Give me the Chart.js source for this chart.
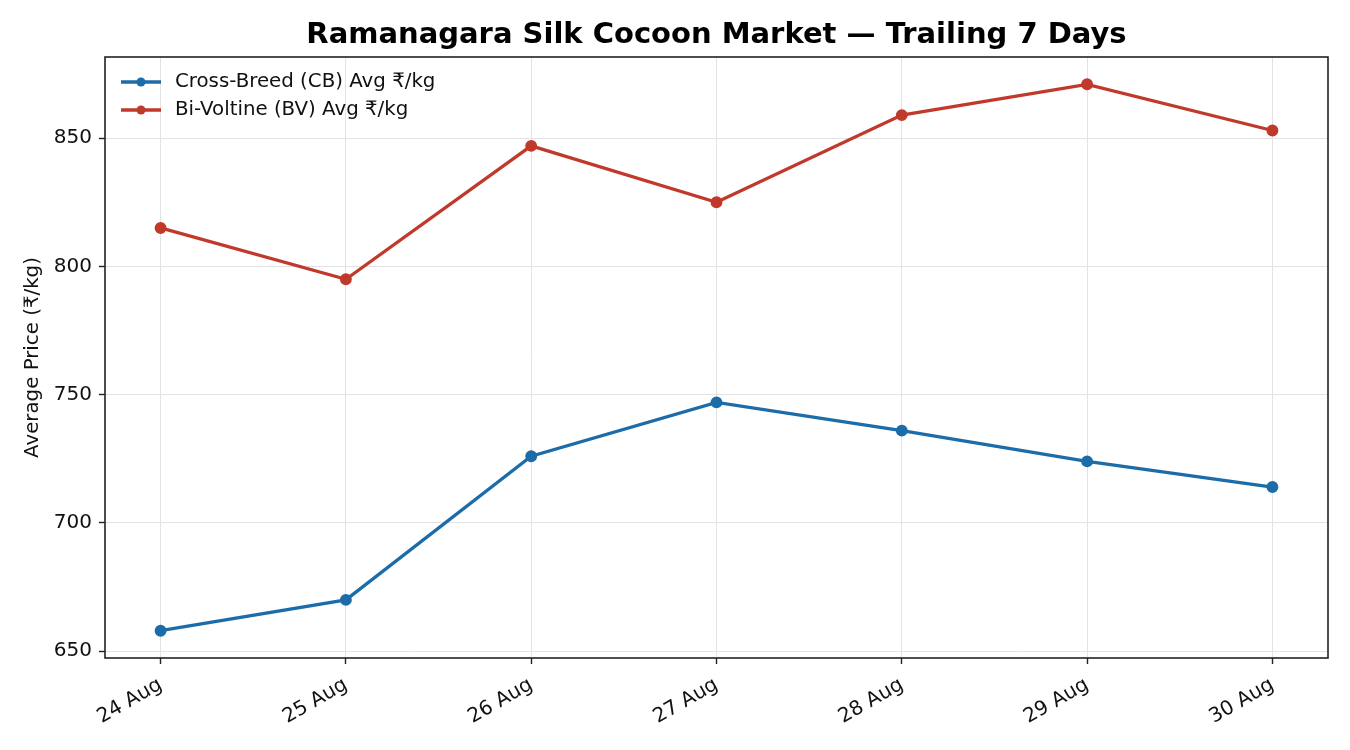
<!DOCTYPE html>
<html>
<head>
<meta charset="utf-8">
<script src="https://cdn.jsdelivr.net/npm/chart.js@4"></script>
<style>
  html, body { margin: 0; padding: 0; background: #fff; }
  canvas { display: block; }
</style>
</head>
<body>
<canvas id="chart" width="1350" height="750"></canvas>
<script>
const days = ['24 Aug', '25 Aug', '26 Aug', '27 Aug', '28 Aug', '29 Aug', '30 Aug'];
const cbAvg = [658, 670, 726, 747, 736, 724, 714];
const bvAvg = [815, 795, 847, 825, 859, 871, 853];
const yTicks = [650, 700, 750, 800, 850];

const FONT = 'DejaVu Sans';

// box round the plot + title + legend inside the plot
const decor = {
  id: 'decor',
  afterDraw(chart) {
    const { ctx, chartArea: a } = chart;
    ctx.save();
    ctx.strokeStyle = '#222';
    ctx.lineWidth = 1.6;
    ctx.strokeRect(a.left, a.top, a.right - a.left, a.bottom - a.top);

    ctx.fillStyle = '#000';
    ctx.font = 'bold 29px ' + FONT;
    ctx.textAlign = 'center';
    ctx.textBaseline = 'middle';
    ctx.fillText('Ramanagara Silk Cocoon Market \u2014 Trailing 7 Days', (a.left + a.right) / 2, 35);

    ctx.font = '19.8px ' + FONT;
    ctx.textAlign = 'left';
    chart.data.datasets.forEach((ds, i) => {
      const y = 82 + i * 28;
      ctx.strokeStyle = ds.borderColor;
      ctx.lineWidth = 3.3;
      ctx.beginPath();
      ctx.moveTo(121, y);
      ctx.lineTo(161, y);
      ctx.stroke();
      ctx.fillStyle = ds.borderColor;
      ctx.beginPath();
      ctx.arc(141, y, 4.5, 0, Math.PI * 2);
      ctx.fill();
      ctx.fillStyle = '#111';
      ctx.fillText(ds.label, 175, y);
    });
    ctx.restore();
  }
};

new Chart(document.getElementById('chart'), {
  type: 'line',
  data: {
    datasets: [
      {
        label: 'Cross-Breed (CB) Avg \u20b9/kg',
        data: cbAvg.map((v, i) => ({ x: i, y: v })),
        borderColor: '#1b6ca8',
        backgroundColor: '#1b6ca8',
        borderWidth: 3.3,
        pointRadius: 4.3,
        pointHoverRadius: 4.3,
        tension: 0
      },
      {
        label: 'Bi-Voltine (BV) Avg \u20b9/kg',
        data: bvAvg.map((v, i) => ({ x: i, y: v })),
        borderColor: '#c0392b',
        backgroundColor: '#c0392b',
        borderWidth: 3.3,
        pointRadius: 4.3,
        pointHoverRadius: 4.3,
        tension: 0
      }
    ]
  },
  options: {
    responsive: false,
    animation: false,
    layout: { padding: { top: 57, right: 22, left: 0, bottom: 0 } },
    plugins: {
      legend: { display: false },
      title: { display: false },
      tooltip: { enabled: false }
    },
    scales: {
      x: {
        type: 'linear',
        min: -0.3,
        max: 6.3,
        afterBuildTicks(scale) {
          scale.ticks = days.map((d, i) => ({ value: i }));
        },
        afterFit(scale) { scale.height = 92; },
        border: { display: false },
        grid: { color: '#e3e3e3', lineWidth: 1, tickColor: '#222', tickLength: 6, tickWidth: 1.4 },
        ticks: {
          minRotation: 30,
          maxRotation: 30,
          color: '#111',
          font: { family: FONT, size: 20 },
          padding: 9,
          callback: (v) => days[v]
        }
      },
      y: {
        min: 647.35,
        max: 881.65,
        afterBuildTicks(scale) {
          scale.ticks = yTicks.map(v => ({ value: v }));
        },
        afterFit(scale) { scale.width = 105; },
        border: { display: false },
        grid: { color: '#e3e3e3', lineWidth: 1, tickColor: '#222', tickLength: 6, tickWidth: 1.4 },
        title: {
          display: true,
          text: 'Average Price (\u20b9/kg)',
          color: '#111',
          font: { family: FONT, size: 19.8 },
          padding: { top: 21, bottom: 0 }
        },
        ticks: {
          color: '#111',
          font: { family: FONT, size: 20 },
          padding: 7
        }
      }
    }
  },
  plugins: [decor]
});
</script>
</body>
</html>
